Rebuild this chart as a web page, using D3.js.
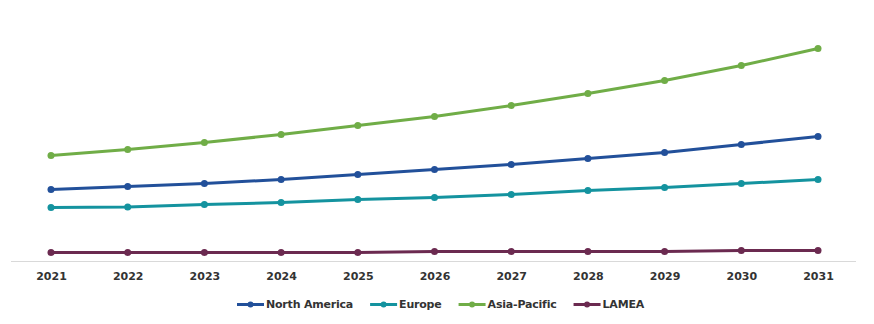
<!DOCTYPE html>
<html><head><meta charset="utf-8">
<script src="https://cdn.jsdelivr.net/npm/d3@7"></script>
<style>body{margin:0;background:#fff}svg{display:block}</style>
</head><body>
<svg id="chart" width="874" height="324"></svg>
<script>
const years = ["2021","2022","2023","2024","2025","2026","2027","2028","2029","2030","2031"];
const northAmerica = [72, 75, 78, 82, 87, 92, 97, 103, 109, 117, 125];
const europe = [54, 54.5, 57, 59, 62, 64, 67, 71, 74, 78, 82];
const asiaPacific = [106, 112, 119, 127, 136, 145, 156, 168, 181, 196, 213];
const lamea = [9, 9, 9, 9, 9, 10, 10, 10, 10, 11, 11];
const seriesNames = ["North America", "Europe", "Asia-Pacific", "LAMEA"];
const seriesColors = ["#22509a", "#14939f", "#70ad47", "#6b2a50"];
const seriesValues = [northAmerica, europe, asiaPacific, lamea];

const svg = d3.select("#chart");
const x = d3.scalePoint().domain(years).range([51, 818]);
const y = d3.scaleLinear().domain([0, 230]).range([261.5, 31.5]);

// baseline axis
svg.append("line").attr("x1", 11).attr("x2", 856).attr("y1", 261.5).attr("y2", 261.5)
  .attr("stroke", "#d9d9d9").attr("stroke-width", 1);

const xAxis = svg.append("g").attr("transform", `translate(0,261)`)
  .call(d3.axisBottom(x).tickSize(0).tickPadding(11));
xAxis.select(".domain").remove();
xAxis.selectAll("text").attr("font-family", "DejaVu Sans").attr("font-weight", "bold")
  .attr("font-size", 11).attr("fill", "#333");

const line = d3.line().x((d, i) => x(years[i])).y(d => y(d));
seriesValues.forEach((vals, k) => {
  const g = svg.append("g");
  g.append("path").datum(vals).attr("d", line).attr("fill", "none")
    .attr("stroke", seriesColors[k]).attr("stroke-width", 3).attr("stroke-linejoin", "round");
  g.selectAll("circle").data(vals).enter().append("circle")
    .attr("cx", (d, i) => x(years[i])).attr("cy", d => y(d)).attr("r", 3.5)
    .attr("fill", seriesColors[k]);
});

// legend
const legend = svg.append("g").attr("transform", "translate(0,304.5)");
let lx = 237;
seriesNames.forEach((name, k) => {
  const g = legend.append("g").attr("transform", `translate(${lx},0)`);
  g.append("line").attr("x1", 0).attr("x2", 27).attr("y1", 0).attr("y2", 0)
    .attr("stroke", seriesColors[k]).attr("stroke-width", 3);
  g.append("circle").attr("cx", 13.5).attr("cy", 0).attr("r", 3).attr("fill", seriesColors[k]);
  const t = g.append("text").attr("x", 29).attr("y", 0).attr("dy", "0.35em")
    .attr("font-family", "DejaVu Sans").attr("font-weight", "bold").attr("font-size", 11)
    .attr("fill", "#333").attr("letter-spacing", -0.2).text(name);
  lx += 29 + t.node().getComputedTextLength() + 17;
});
</script>
</body></html>
